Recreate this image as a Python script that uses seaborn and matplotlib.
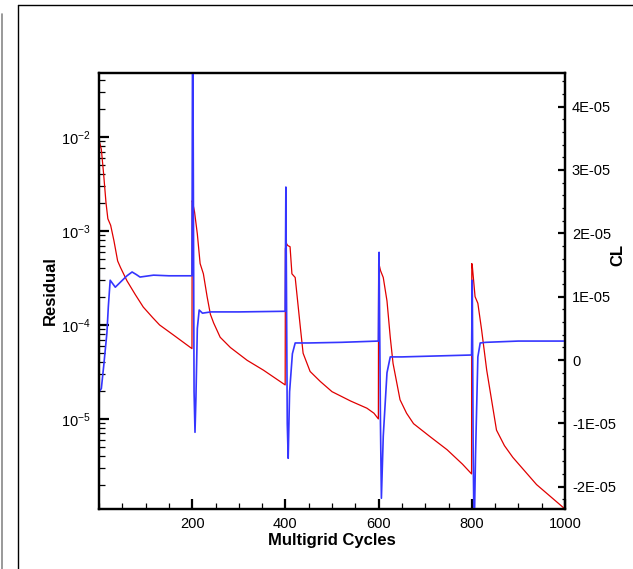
import numpy as np
import pandas as pd
import seaborn as sns
import matplotlib
matplotlib.use("Agg")
import matplotlib.pyplot as plt
from matplotlib.ticker import MultipleLocator, FuncFormatter, LogLocator
from matplotlib.lines import Line2D

# Residual history (left, log axis)
res_cycles = [1, 5, 10, 15, 19, 25, 32, 40, 46, 60, 78, 95, 115, 130, 160, 199.5,
              200, 201, 205, 211, 217, 224, 232, 239, 246, 260, 282, 318, 353, 399.5,
              400, 402, 405, 410, 414, 421, 432, 438, 453, 475, 500, 540, 575, 590, 599.5,
              600, 602, 604, 610, 618, 625, 631, 646, 660, 675, 710, 747, 780, 799.5,
              800, 801, 807, 813, 821, 832, 853, 870, 888, 939, 1000]
res_values = [8.9e-3, 7.4e-3, 4.0e-3, 2.0e-3, 1.35e-3, 1.15e-3, 7.9e-4, 4.8e-4, 4.1e-4, 2.95e-4,
              2.1e-4, 1.55e-4, 1.2e-4, 1.0e-4, 7.8e-5, 5.6e-5,
              2.1e-3, 2.0e-3, 1.6e-3, 9.3e-4, 4.5e-4, 3.5e-4, 2.0e-4, 1.3e-4, 1.05e-4, 7.4e-5,
              5.75e-5, 4.2e-5, 3.3e-5, 2.3e-5,
              6.5e-4, 7.4e-4, 7.0e-4, 6.8e-4, 3.5e-4, 3.2e-4, 9.5e-5, 5.0e-5, 3.2e-5, 2.5e-5,
              1.95e-5, 1.55e-5, 1.3e-5, 1.15e-5, 1.0e-5,
              4.5e-4, 4.2e-4, 3.8e-4, 3.2e-4, 1.8e-4, 7.4e-5, 3.9e-5, 1.6e-5, 1.15e-5, 8.9e-6,
              6.5e-6, 4.7e-6, 3.3e-6, 2.6e-6,
              4.5e-4, 4.3e-4, 2.0e-4, 1.7e-4, 8.9e-5, 3.3e-5, 7.6e-6, 5.2e-6, 3.9e-6, 2.0e-6, 1.1e-6]

# Lift coefficient history (right axis), units of 1e-5
cl_cycles = [0, 5, 10, 17, 20, 24, 30, 35, 46, 60, 71, 80, 88, 117, 150, 199.5,
             201, 204, 206, 208, 211, 215, 222, 240, 300, 399.5,
             401, 404, 406, 409, 415, 421, 450, 520, 599.5,
             601, 604, 606, 610, 618, 625, 650, 700, 750, 799.5,
             801, 803, 805, 808, 813, 818, 830, 900, 1000]
cl_values = [-0.5, -0.45, -0.1, 0.43, 0.84, 1.26, 1.2, 1.15, 1.23, 1.33, 1.39, 1.35, 1.31, 1.34,
             1.33, 1.33,
             6.0, -0.5, -1.14, -0.6, 0.5, 0.79, 0.74, 0.76, 0.76, 0.77,
             2.73, -1.0, -1.55, -0.5, 0.1, 0.27, 0.27, 0.28, 0.3,
             1.7, -1.0, -2.18, -1.2, -0.2, 0.05, 0.05, 0.06, 0.07, 0.08,
             1.26, -1.5, -2.8, -1.5, 0.05, 0.27, 0.28, 0.3, 0.3]

res_df = pd.DataFrame({"cycle": res_cycles, "residual": res_values})
cl_df = pd.DataFrame({"cycle": cl_cycles, "cl": np.array(cl_values) * 1e-5})

sns.set_style("ticks")
plt.rcParams["font.family"] = ["Liberation Sans", "DejaVu Sans"]
plt.rcParams["mathtext.fontset"] = "custom"
plt.rcParams["mathtext.rm"] = "Liberation Sans"
plt.rcParams["mathtext.it"] = "Liberation Sans"
plt.rcParams["axes.unicode_minus"] = False
plt.rcParams["text.color"] = "black"
plt.rcParams["axes.labelcolor"] = "black"
plt.rcParams["xtick.color"] = "black"
plt.rcParams["ytick.color"] = "black"

fig = plt.figure(figsize=(6.33, 5.69), dpi=100)
ax = fig.add_axes([99 / 633, 1 - 509 / 569, 466 / 633, 436 / 569])
ax2 = ax.twinx()

sns.lineplot(data=res_df, x="cycle", y="residual", ax=ax, color="#e00000",
             lw=0.9, estimator=None, sort=False)
sns.lineplot(data=cl_df, x="cycle", y="cl", ax=ax2, color="#3535ff",
             lw=1.2, estimator=None, sort=False)

ax.set_yscale("log")
ax.set_xlim(0, 1000)
ax.set_ylim(1.1e-6, 0.048)
ax2.set_ylim(-2.35e-5, 4.53e-5)

ax.set_xticks([200, 400, 600, 800, 1000])
ax.xaxis.set_minor_locator(MultipleLocator(50))
ax.yaxis.set_major_locator(LogLocator(base=10))
ax.yaxis.set_minor_locator(LogLocator(base=10, subs=np.arange(2, 10)))
ax2.yaxis.set_major_locator(MultipleLocator(1e-5))
ax2.yaxis.set_minor_locator(MultipleLocator(2e-6))
ax2.yaxis.set_major_formatter(FuncFormatter(lambda v, p: "0" if abs(v) < 1e-12 else f"{v:.0E}"))

for a in (ax, ax2):
    for s in a.spines.values():
        s.set_linewidth(1.6)
        s.set_color("black")

ax.tick_params(axis="both", which="major", direction="in", length=7, width=1.6,
               labelsize=10.5, top=False, right=False, pad=6, colors="black")
ax.tick_params(axis="both", which="minor", direction="in", length=4.5, width=0.9,
               top=False, right=False, colors="black")
ax2.tick_params(axis="y", which="major", direction="in", length=5, width=1.6,
                labelsize=10.5, pad=5, colors="black")
ax2.tick_params(axis="y", which="minor", direction="in", length=2.5, width=0.9, colors="black")

ax.set_xlabel("Multigrid Cycles", fontsize=12, fontweight="bold", labelpad=1, color="black")
ax.set_ylabel("Residual", fontsize=12, fontweight="bold", labelpad=2, color="black")
ax2.set_ylabel("CL", fontsize=12, fontweight="bold", rotation=90, color="black")
ax2.yaxis.set_label_coords(1.097, 0.583)

# page frame lines
fig.add_artist(Line2D([18 / 633, 18 / 633], [0, 1 - 5 / 569], color="black", lw=1.0))
fig.add_artist(Line2D([18 / 633, 1], [1 - 5 / 569, 1 - 5 / 569], color="black", lw=1.0))
fig.add_artist(Line2D([1.5 / 633, 1.5 / 633], [0, 1 - 14 / 569], color="#888888", lw=1.2))

fig.savefig("out.png", dpi=100)
